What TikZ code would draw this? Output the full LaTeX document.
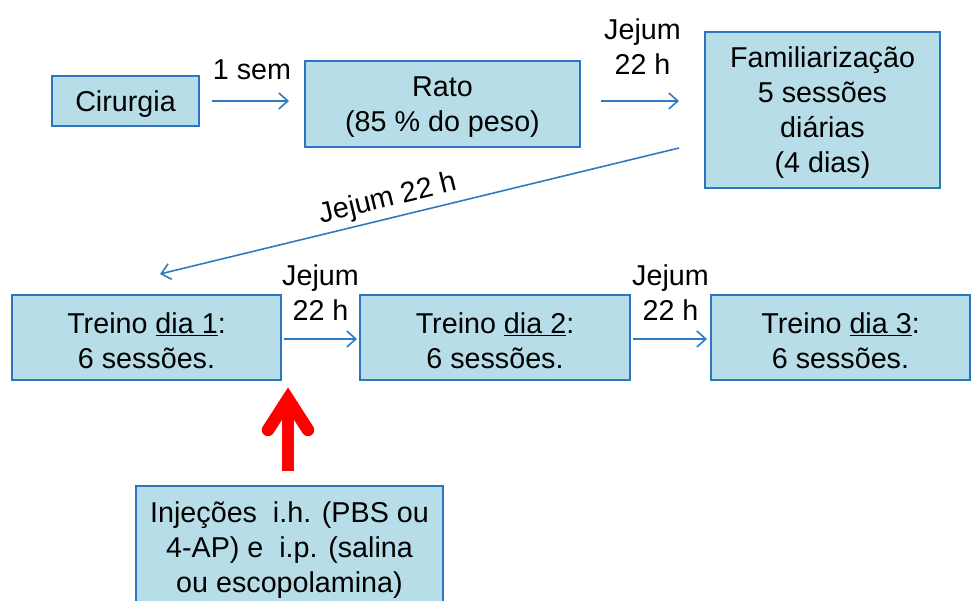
\documentclass[tikz,border=0pt]{standalone}
\usepackage{fontspec}
\setmainfont{Liberation Sans}
\usetikzlibrary{arrows.meta}
\definecolor{boxfill}{HTML}{B7DEE8}
\definecolor{boxline}{HTML}{2E75C0}
\definecolor{arrblue}{HTML}{2E7BC4}
\newcommand{\bigfont}{\fontsize{28.7}{35}\selectfont}
\newcommand{\tstrut}{\rule{0pt}{26.5pt}}
\tikzset{
  box/.style={draw=boxline, line width=2pt, fill=boxfill, align=center, inner sep=0pt, font=\bigfont},
  lbl/.style={align=center, inner sep=0pt, font=\bigfont},
  arr/.style={draw=arrblue, line width=1.6pt, -{Straight Barb[length=9pt,width=16pt]}},
  arrrev/.style={draw=arrblue, line width=1.6pt, {Straight Barb[length=9pt,width=16pt]}-},
  redline/.style={draw=red, line width=12.5pt},
  redhead/.style={draw=red, line width=12.5pt, line cap=round, line join=miter}
}
\begin{document}
\begin{tikzpicture}[x=1pt,y=-1pt]
\clip (0,0) rectangle (971,601);
\useasboundingbox (0,0) rectangle (971,601);
% boxes
\node[box, minimum width=147pt, minimum height=50pt] (cir) at (125.5,101) {\tstrut Cirurgia};
\node[box, minimum width=275pt, minimum height=86pt] (rato) at (442.5,104) {\tstrut Rato\\(85 \% do peso)};
\node[box, minimum width=235pt, minimum height=156pt] (fam) at (822.5,110) {\tstrut Familiarização\\5 sessões\\diárias\\(4 dias)};
\node[box, minimum width=269pt, minimum height=85pt] (t1) at (146.5,337.5) {\tstrut Treino \underline{dia 1}:\\6 sessões.};
\node[box, minimum width=270pt, minimum height=85pt] (t2) at (495,337.5) {\tstrut Treino \underline{dia 2}:\\6 sessões.};
\node[box, minimum width=259pt, minimum height=85pt] (t3) at (840.5,337.5) {\tstrut Treino \underline{dia 3}:\\6 sessões.};
\node[box, minimum width=307pt, minimum height=123pt] (inj) at (289.5,547.5) {\tstrut Injeções\ \ i.h. (PBS ou\\4-AP) e\ \ i.p. (salina\\ou escopolamina)};
% connectors
\draw[arr, shorten <=12pt, shorten >=15pt] (cir.east) -- (cir.east -| rato.west)
  node[lbl, midway, yshift=31pt] {1 sem};
\draw[arr, shorten <=20pt, shorten >=25pt] ([yshift=3pt]rato.east) -- ([yshift=3pt]rato.east -| fam.west)
  node[lbl, midway, yshift=54pt] {Jejum\\22 h};
\coordinate (dstart) at ([shift={(-25,38)}]fam.west);
\coordinate (dend) at ([shift={(13.5,-20)}]t1.north);
\draw[arrrev] (dend) -- (dstart)
  node[lbl, pos=0.448, sloped, above=4.5pt] {Jejum 22 h};
\draw[arr, shorten <=2pt, shorten >=2pt] ([yshift=-1.5pt]t1.east) -- ([yshift=-1.5pt]t1.east -| t2.west)
  node[lbl, midway, yshift=46.5pt] {Jejum\\22 h};
\draw[arr, shorten <=2pt, shorten >=3pt] ([yshift=-1.5pt]t2.east) -- ([yshift=-1.5pt]t2.east -| t3.west)
  node[lbl, midway, yshift=46.5pt] {Jejum\\22 h};
% red arrow from injections box
\coordinate (rb) at ([shift={(-1.5,-14)}]inj.north);
\coordinate (rt) at ([shift={(-1.5,-86)}]inj.north);
\draw[redline] (rb) -- ([yshift=-5pt]rt);
\draw[redhead] ([shift={(-20,31)}]rt) -- (rt) -- ([shift={(20,31)}]rt);
\end{tikzpicture}
\end{document}
